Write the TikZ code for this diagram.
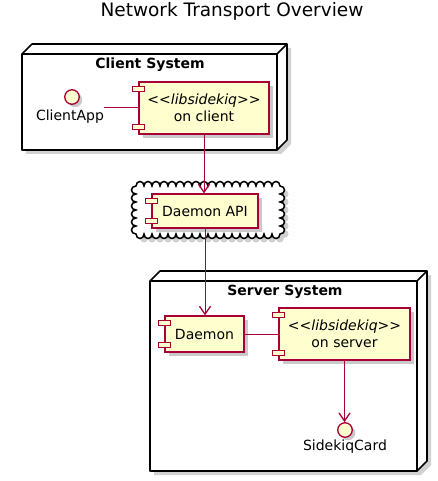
\documentclass[tikz,border=0pt]{standalone}
\usepackage{fontspec}
\setmainfont{DejaVu Sans}[Ligatures=TeXOff]
\usetikzlibrary{shadows,arrows.meta}
\definecolor{compfill}{HTML}{FEFECE}
\definecolor{compline}{HTML}{A80036}
\newcommand\compports[1]{%
  \draw[draw=compline,fill=compfill,line width=1pt] ([shift={(-6,5)}]#1.north west) rectangle +(12,5);
  \draw[draw=compline,fill=compfill,line width=1pt] ([shift={(-6,-10)}]#1.south west) rectangle +(12,5);}
\newcommand\nodebox[4]{%
  \fill[black!18] ({#1+4},{#2+4}) -- ({#1+14},{#2-6}) -- ({#3+14},{#2-6}) -- ({#3+14},{#4-6}) -- ({#3+4},{#4+4}) -- ({#1+4},{#4+4}) -- cycle;
  \draw[line width=1.6pt,fill=white,line join=round] (#1,#2) -- ({#1+10},{#2-10}) -- ({#3+10},{#2-10}) -- ({#3+10},{#4-10}) -- (#3,#4) -- (#1,#4) -- cycle;
  \draw[line width=1.6pt,line join=round] (#1,#2) -- (#3,#2) -- (#3,#4) (#3,#2) -- ({#3+10},{#2-10});}
\newcommand\cloudpath{(136,186)
  \foreach \i in {1,...,18}{ .. controls +(0,-6) and +(0,-6) .. ++(8,0)}
  \foreach \i in {1,...,6}{ .. controls +(6,0) and +(6,0) .. ++(0,8)}
  \foreach \i in {1,...,18}{ .. controls +(0,6) and +(0,6) .. ++(-8,0)}
  \foreach \i in {1,...,6}{ .. controls +(-6,0) and +(-6,0) .. ++(0,-8)} -- cycle}
\newcommand\stereo{\textit{<\kern0pt<libsidekiq>\kern0pt>}}
\begin{document}
\begin{tikzpicture}[x=1pt,y=-1pt,
  comp/.style={draw=compline,fill=compfill,line width=1.2pt,inner sep=0pt,align=center,
    font=\fontsize{14}{17}\selectfont,
    drop shadow={shadow xshift=4pt,shadow yshift=-4pt,fill=black!35,opacity=0.6}},
  iface/.style={circle,draw=compline,fill=compfill,line width=1.3pt,minimum size=14.5pt,inner sep=0pt,
    drop shadow={shadow xshift=3pt,shadow yshift=-3pt,fill=black!35,opacity=0.6}},
  lbl/.style={font=\fontsize{14}{17}\selectfont,inner sep=0pt},
  boxtitle/.style={font=\fontsize{14}{17}\selectfont\bfseries,inner sep=0pt},
  entity/.style={inner sep=0pt,draw=none},
  conn/.style={draw=compline,line width=0.8pt},
  arr/.style={conn,-{Straight Barb[length=8pt,width=11pt,line width=1.3pt]}}]
\useasboundingbox (0,0) rectangle (438,481);
\fill[white] (0,0) rectangle (438,481);

\node[font=\fontsize{18.5}{22}\selectfont,inner sep=0pt] (title) at (232,11) {Network Transport Overview};

% Client system
\nodebox{22}{54}{277}{150}
\node[boxtitle] (clientsys) at (150,65) {Client System};
\node[entity,minimum width=68pt,minimum height=33pt] (clientapp) at (70,107.5) {};
\node[iface] (clientappicon) at (72,97) {};
\node[lbl] (clientapptext) at (70,117) {ClientApp};
\node[comp,minimum width=130pt,minimum height=52pt] (onclient) at (204,108) {\stereo\\on client};
\compports{onclient}

% Cloud
\fill[black!30,opacity=0.6,shift={(4,4)}] \cloudpath;
\draw[line width=1.5pt,fill=white] \cloudpath;
\node[comp,minimum width=106pt,minimum height=34pt] (daemonapi) at (205,211) {Daemon API};
\compports{daemonapi}

% Server system
\nodebox{150}{281}{417}{471}
\node[boxtitle] (serversys) at (285,292) {Server System};
\node[comp,minimum width=79pt,minimum height=36pt] (daemon) at (204.5,334) {Daemon};
\compports{daemon}
\node[comp,minimum width=131pt,minimum height=52pt] (onserver) at (344.5,334) {\stereo\\on server};
\compports{onserver}
\node[iface] (sidekiqcard) at (345,430) {};
\node[lbl] (sidekiqcardtext) at (345,447) {SidekiqCard};

% connectors
\draw[conn] (clientapp.east) -- (onclient.west |- clientapp.east);
\draw[arr] (onclient.south) -- (onclient.south |- daemonapi.north);
\draw[arr] (daemonapi.south) -- (daemonapi.south |- daemon.north);
\draw[conn] (daemon.east) -- (onserver.west);
\draw[arr] (onserver.south) -- (onserver.south |- sidekiqcard.north);
\end{tikzpicture}
\end{document}
